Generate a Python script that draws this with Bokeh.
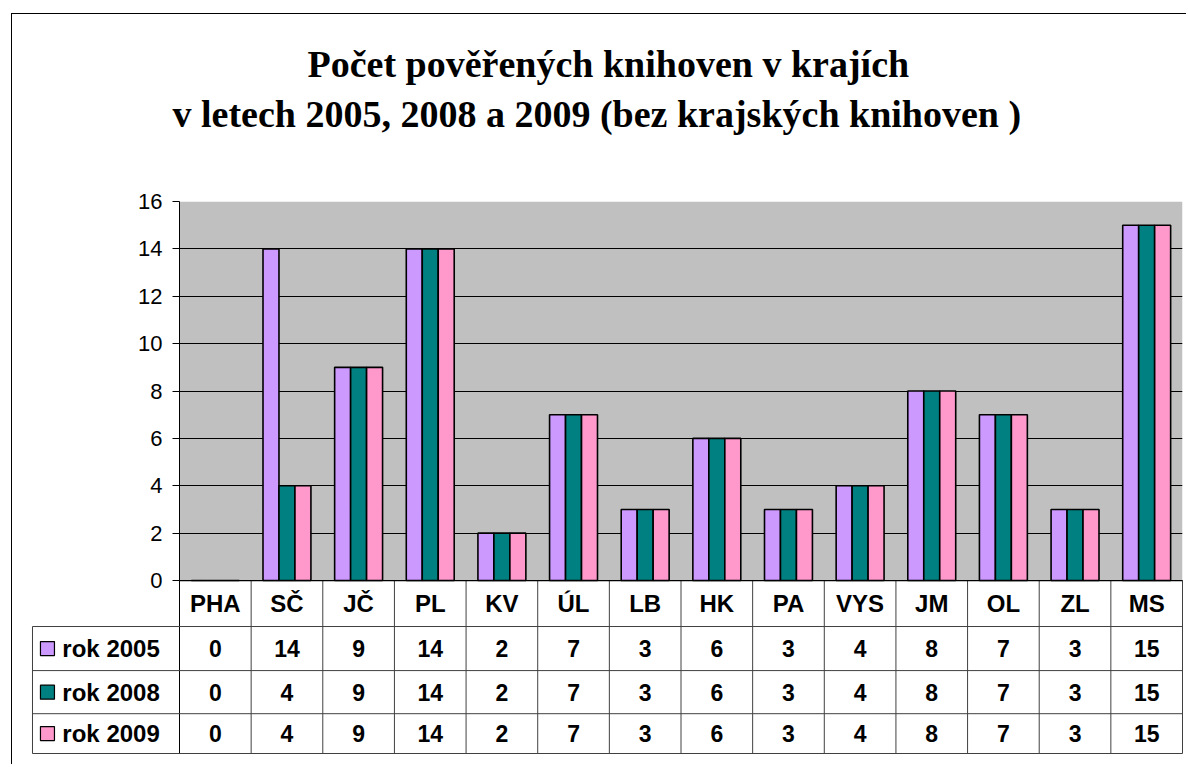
from bokeh.plotting import figure
from bokeh.models import ColumnDataSource, FixedTicker, Range1d, Title
from bokeh.transform import dodge
from bokeh.core.properties import value
from bokeh.embed import file_html
from bokeh.resources import INLINE

# ---------------- data ----------------
categories = ["PHA", "SČ", "JČ", "PL", "KV", "ÚL", "LB", "HK", "PA", "VYS", "JM", "OL", "ZL", "MS"]
rok_2005 = [0, 14, 9, 14, 2, 7, 3, 6, 3, 4, 8, 7, 3, 15]
rok_2008 = [0, 4, 9, 14, 2, 7, 3, 6, 3, 4, 8, 7, 3, 15]
rok_2009 = [0, 4, 9, 14, 2, 7, 3, 6, 3, 4, 8, 7, 3, 15]
series_names = ["rok 2005", "rok 2008", "rok 2009"]
series_colors = ["#CC99FF", "#008080", "#FF99CC"]
y_ticks = [0, 2, 4, 6, 8, 10, 12, 14, 16]
title_line1 = "Počet pověřených knihoven v krajích"
title_line2 = "v letech 2005, 2008 a 2009 (bez krajských knihoven )"

# ---------------- layout constants ----------------
BAR_W = 0.223
ROW_EDGES = [0, -1.94, -3.80, -5.62, -7.30]      # table rows below the plot area
LEG_LEFT = -2.052                                 # left edge of legend column
SANS = "Liberation Sans"
SERIF = "Liberation Serif"

p = figure(
    x_range=categories, y_range=Range1d(ROW_EDGES[-1], 16),
    width=1175, height=751,
    min_border_left=167, min_border_top=187, min_border_right=5, min_border_bottom=12,
    x_axis_location=None, toolbar_location=None, output_backend="svg",
    background_fill_color="white", border_fill_color="white",
)
p.outline_line_color = None
p.margin = (13, 0, 0, 11)
p.styles = {"border-left": "1px solid black", "border-top": "1px solid black"}

# titles: spacer nearest the plot, then line 2, then line 1
p.add_layout(Title(text=" ", text_font_size="1px", standoff=64), "above")
p.add_layout(Title(text=title_line2, align="left", offset=-7, standoff=0,
                   text_font=SERIF, text_font_size="38px",
                   text_font_style="bold", text_color="black"), "above")
p.add_layout(Title(text=title_line1, align="left", offset=128, standoff=12,
                   text_font=SERIF, text_font_size="38px",
                   text_font_style="bold", text_color="black"), "above")

# gray plot area
p.quad(left=[0], right=[len(categories)], bottom=[0], top=[y_ticks[-1]],
       fill_color="#C0C0C0", line_color=None, level="image")

# grid
p.xgrid.visible = False
p.ygrid.ticker = FixedTicker(ticks=y_ticks[:-1])
p.ygrid.grid_line_color = "black"
p.ygrid.grid_line_width = 1

# y axis
p.yaxis.ticker = FixedTicker(ticks=y_ticks)
p.yaxis.major_label_text_font = SANS
p.yaxis.major_label_text_font_size = "22px"
p.yaxis.major_label_text_color = "black"
p.yaxis.major_tick_out = 7
p.yaxis.major_tick_in = 0
p.yaxis.minor_tick_line_color = None
p.yaxis.major_tick_line_color = "black"
p.yaxis.axis_line_color = "black"
p.yaxis.major_label_standoff = 10

# bars
src = ColumnDataSource(dict(cat=categories, r2005=rok_2005, r2008=rok_2008, r2009=rok_2009,
                            t2005=[str(v) for v in rok_2005],
                            t2008=[str(v) for v in rok_2008],
                            t2009=[str(v) for v in rok_2009]))
cols = ["r2005", "r2008", "r2009"]
offs = [-BAR_W, 0, BAR_W]
for col, off, color in zip(cols, offs, series_colors):
    p.vbar(x=dodge("cat", off, range=p.x_range), top=col, bottom=0, width=BAR_W,
           source=src, fill_color=color, line_color="black", line_width=1.6)

# ---------------- data table ----------------
n = len(categories)
line_col = "#404040"
# vertical separators between categories (below the plot area)
p.segment(x0=list(range(1, n + 1)), x1=list(range(1, n + 1)),
          y0=[0] * n, y1=[ROW_EDGES[-1]] * n, line_color=line_col, line_width=1, level="overlay")
# baseline of plot area
p.segment(x0=[0], x1=[n], y0=[0], y1=[0], line_color="black", line_width=1.2, level="overlay")
# row separators
hy = ROW_EDGES[1:]
p.segment(x0=[LEG_LEFT] * len(hy), x1=[n] * len(hy), y0=hy, y1=hy,
          line_color=line_col, line_width=1, level="overlay")
# legend column left border
p.segment(x0=[LEG_LEFT], x1=[LEG_LEFT], y0=[ROW_EDGES[1]], y1=[ROW_EDGES[-1]],
          line_color=line_col, line_width=1, level="overlay")

row_mid = [(ROW_EDGES[i] + ROW_EDGES[i + 1]) / 2 for i in range(len(ROW_EDGES) - 1)]

# header (category names)
p.text(x="cat", y=row_mid[0], text="cat", source=src,
       text_font=value(SANS), text_font_style="bold", text_font_size="24px",
       text_align="center", text_baseline="middle", text_color="black")
# values
for tcol, ym in zip(["t2005", "t2008", "t2009"], row_mid[1:]):
    p.text(x="cat", y=ym, text=tcol, source=src,
           text_font=value(SANS), text_font_style="bold", text_font_size="23px",
           text_align="center", text_baseline="middle", text_color="black")

# legend keys in first column
p.rect(x=[-1.843] * 3, y=row_mid[1:], width=14, height=14,
       width_units="screen", height_units="screen",
       fill_color=series_colors, line_color="black", line_width=1.2, level="overlay")
p.text(x=[-1.635] * 3, y=row_mid[1:], text=series_names,
       text_font=value(SANS), text_font_style="bold", text_font_size="24px",
       text_align="left", text_baseline="middle", text_color="black", level="overlay")

open("out.html", "w").write(file_html(p, INLINE))
